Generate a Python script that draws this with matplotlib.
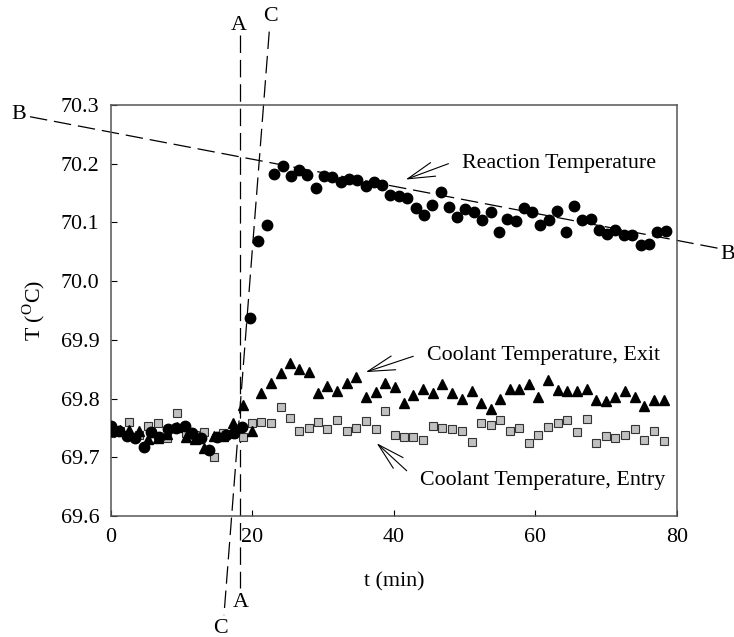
import matplotlib
matplotlib.use("Agg")
import matplotlib.pyplot as plt

plt.rcParams['font.family'] = ['Liberation Serif', 'DejaVu Serif']
plt.rcParams['mathtext.fontset'] = 'custom'
plt.rcParams['mathtext.rm'] = 'Liberation Serif'

# reaction temperature (circles)
t_reac = [0.0, 1.1, 2.3, 3.4, 4.6, 5.7, 6.8, 8.0, 9.2, 10.4, 11.5, 12.7, 13.9, 15.0,
          16.2, 17.4, 18.5, 19.6, 20.8, 22.0, 23.1, 24.3, 25.4, 26.6, 27.7, 29.0,
          30.1, 31.3, 32.5, 33.6, 34.8, 36.0, 37.2, 38.3, 39.5, 40.7, 41.9, 43.1,
          44.2, 45.4, 46.6, 47.8, 48.9, 50.1, 51.3, 52.5, 53.7, 54.8, 56.0, 57.2,
          58.4, 59.5, 60.7, 61.9, 63.1, 64.3, 65.4, 66.6, 67.8, 69.0, 70.1, 71.3,
          72.5, 73.7, 74.9, 76.0, 77.2, 78.4]
T_reac = [69.753, 69.745, 69.737, 69.732, 69.718, 69.743, 69.734, 69.748, 69.750,
          69.753, 69.742, 69.732, 69.713, 69.735, 69.738, 69.742, 69.751, 69.937,
          70.069, 70.095, 70.182, 70.196, 70.179, 70.189, 70.181, 70.159, 70.179,
          70.177, 70.169, 70.174, 70.173, 70.162, 70.169, 70.163, 70.146, 70.145,
          70.142, 70.125, 70.113, 70.130, 70.152, 70.126, 70.109, 70.123, 70.117,
          70.104, 70.117, 70.083, 70.106, 70.102, 70.125, 70.118, 70.096, 70.104,
          70.119, 70.084, 70.128, 70.104, 70.105, 70.087, 70.080, 70.087, 70.079,
          70.078, 70.062, 70.064, 70.083, 70.085]

# coolant exit (triangles) and entry (squares), same sampling times
t_cool = [0.0, 1.3, 2.6, 4.0, 5.3, 6.6, 7.9, 9.3, 10.6, 11.9, 13.2, 14.6, 15.9, 17.2,
          18.6, 19.9, 21.2, 22.6, 24.0, 25.3, 26.6, 28.0, 29.3, 30.6, 32.0, 33.4,
          34.7, 36.1, 37.5, 38.8, 40.1, 41.4, 42.7, 44.1, 45.5, 46.8, 48.2, 49.6,
          51.0, 52.3, 53.7, 55.0, 56.4, 57.7, 59.1, 60.4, 61.8, 63.2, 64.5, 65.9,
          67.3, 68.6, 70.0, 71.3, 72.6, 74.0, 75.3, 76.7, 78.1]
T_exit = [69.745, 69.747, 69.746, 69.745, 69.731, 69.732, 69.740, 69.752, 69.735,
          69.731, 69.715, 69.736, 69.736, 69.759, 69.789, 69.745, 69.809, 69.827,
          69.844, 69.861, 69.850, 69.846, 69.810, 69.821, 69.813, 69.826, 69.837,
          69.803, 69.811, 69.827, 69.819, 69.792, 69.806, 69.817, 69.809, 69.824,
          69.810, 69.799, 69.813, 69.792, 69.782, 69.799, 69.816, 69.816, 69.824,
          69.803, 69.832, 69.814, 69.813, 69.813, 69.817, 69.797, 69.795, 69.802,
          69.812, 69.803, 69.787, 69.797, 69.797]
T_entry = [69.742, 69.745, 69.760, 69.738, 69.754, 69.758, 69.733, 69.775, 69.742,
           69.738, 69.743, 69.701, 69.741, 69.739, 69.735, 69.758, 69.760, 69.759,
           69.785, 69.767, 69.745, 69.750, 69.760, 69.748, 69.763, 69.744, 69.750,
           69.761, 69.748, 69.779, 69.738, 69.735, 69.735, 69.729, 69.753, 69.750,
           69.748, 69.745, 69.726, 69.758, 69.755, 69.763, 69.745, 69.749, 69.724,
           69.738, 69.752, 69.758, 69.763, 69.743, 69.765, 69.724, 69.736, 69.732,
           69.738, 69.748, 69.730, 69.745, 69.728]

# construction lines (end points in data units)
line_A = ([18.23, 18.23], [70.419, 69.477])
line_B = ([-11.45, 85.8], [70.280, 70.056])
line_C = ([22.37, 15.97], [70.425, 69.431])

fig = plt.figure(figsize=(7.34, 6.37), dpi=100)
ax = fig.add_axes([0.1512, 0.19, 0.7711, 0.6452])

dash = dict(color='black', lw=0.9, dashes=(14, 5.5), clip_on=False)
for xs, ys in (line_A, line_B, line_C):
    ax.plot(xs, ys, **dash)

ax.plot(t_cool, T_entry, 's', ms=6.3, mfc='#c0c0c0', mec='#333333', mew=0.8, zorder=3)
ax.plot(t_cool, T_exit, '^', ms=7.5, color='black', zorder=4)
ax.plot(t_reac, T_reac, 'o', ms=7.5, color='black', zorder=5)

fs = 15.8
# line labels
for s, x, y in [('A', 18.1, 70.436), ('A', 18.4, 69.452), ('C', 22.5, 70.45),
                ('C', 15.5, 69.409), ('B', -13.1, 70.283), ('B', 87.2, 70.046)]:
    ax.text(x, y, s, fontsize=fs, ha='center', va='center', clip_on=False)

arrow = dict(arrowstyle='->,head_length=1.95,head_width=0.52', color='black',
             lw=0.8, shrinkA=0, shrinkB=0, mutation_scale=10)
ax.annotate('', xy=(41.65, 70.173), xytext=(47.7, 70.200), arrowprops=arrow)
ax.text(49.6, 70.200, 'Reaction Temperature', fontsize=fs, va='center')
ax.annotate('', xy=(36.0, 69.845), xytext=(42.73, 69.872), arrowprops=arrow)
ax.text(44.6, 69.874, 'Coolant Temperature, Exit', fontsize=fs, va='center')
ax.annotate('', xy=(37.55, 69.724), xytext=(41.8, 69.677), arrowprops=arrow)
ax.text(43.7, 69.661, 'Coolant Temperature, Entry', fontsize=fs, va='center',
        clip_on=False)

ax.set_xlim(0, 80)
ax.set_ylim(69.6, 70.3)
ax.set_xticks([0, 20, 40, 60, 80])
ax.set_yticks([69.6, 69.7, 69.8, 69.9, 70.0, 70.1, 70.2, 70.3])
ax.yaxis.set_major_formatter(matplotlib.ticker.FormatStrFormatter('%.1f'))
ax.tick_params(direction='in', length=4, labelsize=fs, top=False, right=False)
ax.tick_params(axis='y', pad=8.5)
ax.tick_params(axis='x', pad=9)
for sp in ax.spines.values():
    sp.set_color('#555555')
    sp.set_linewidth(1.1)

ax.set_xlabel('t (min)', fontsize=fs, labelpad=18)
ax.set_ylabel(r'T ($^{\mathrm{O}}$C)', fontsize=fs, labelpad=10)

fig.savefig('out.png', dpi=100)
